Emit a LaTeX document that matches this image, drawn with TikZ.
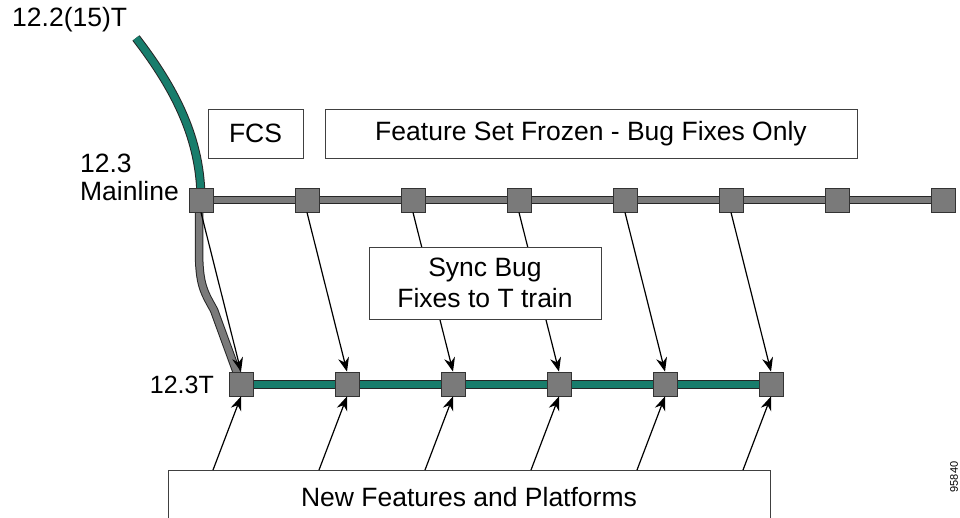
\documentclass[tikz,border=0pt]{standalone}
\usepackage{fontspec}
\setmainfont{Liberation Sans}
\usetikzlibrary{arrows.meta,backgrounds}
\definecolor{tealc}{RGB}{24,125,108}
\definecolor{sqgray}{RGB}{122,122,122}
\begin{document}
\begin{tikzpicture}[x=1pt,y=-1pt, font=\fontsize{26.5}{31}\selectfont,
  sq/.style={draw=black!80, line width=0.8pt, fill=sqgray, minimum size=24pt, inner sep=0pt},
  box/.style={draw=black!75, line width=0.9pt, fill=white, inner sep=0pt, align=center},
  arr/.style={-{Stealth[length=14pt,width=11pt]}, line width=1.2pt},
  graybar/.style={draw=black!85, line width=1pt, double=sqgray, double distance=6.5pt, line join=round},
  tealbar/.style={draw=black!85, line width=1pt, double=tealc, double distance=7pt},
  lbl/.style={inner sep=0pt}]
\useasboundingbox (0,0) rectangle (960,517);

% release squares
\foreach \i in {1,...,8} \node[sq] (m\i) at ({201+106*(\i-1)},200) {};
\foreach \i in {1,...,6} \node[sq] (t\i) at ({241+106*(\i-1)},384) {};

% trains (behind squares)
\coordinate (c0) at (136,38);
\coordinate (g1) at (199,250);
\coordinate (g2) at (214,310);
\begin{pgfonlayer}{background}
  \draw[graybar] (m1.center) -- (m8.center);
  \draw[tealbar] (t1.center) -- (t6.center);
  \draw[tealbar] (c0) .. controls (176,90) and (201,140) .. (m1.center);
  \draw[graybar] ([xshift=-2pt]m1.center) -- (g1) .. controls (199,285) and (204,292) .. (g2) -- (t1.center);
\end{pgfonlayer}

% sync arrows
\foreach \i in {1,...,6} \draw[arr] (m\i.south) -- (t\i.north);

% new features box and arrows
\node[box, minimum width=602pt, minimum height=54pt] (nf) at (469,497) {New Features and Platforms};
\foreach \i in {1,...,6} {
  \coordinate (b\i) at ({213+106*(\i-1)},470);
  \draw[arr] (b\i) -- (t\i.south);
}

% boxes
\node[box, minimum width=95pt, minimum height=49pt] (fcs) at (255.5,133.5) {FCS};
\node[box, minimum width=532pt, minimum height=49pt] (frz) at (591,133.5) {Feature Set Frozen - Bug Fixes Only};
\node[box, minimum width=232pt, minimum height=72pt] (sync) at (485,283) {Sync Bug\\Fixes to T train};

% labels
\node[lbl, anchor=west] (l122) at (12,20) {12.2(15)T};
\node[lbl, anchor=east, align=left, font=\fontsize{26.5}{28}\selectfont] (l123) at (179,177) {12.3\\Mainline};
\node[lbl, anchor=east, font=\fontsize{25}{30}\selectfont] (l123t) at (214,385) {12.3T};
\node[lbl, rotate=90, font=\fontsize{11}{13}\selectfont] (fig) at (954,477) {95840};
\end{tikzpicture}
\end{document}
